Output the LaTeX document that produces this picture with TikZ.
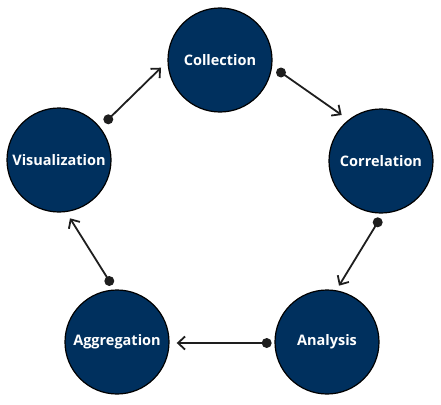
\documentclass[tikz,border=0pt]{standalone}
\usepackage{fontspec}
\setmainfont{Open Sans}
\usetikzlibrary{arrows.meta}
\definecolor{navy}{RGB}{0,48,94}
\definecolor{ink}{RGB}{30,30,30}
\tikzset{
  stage/.style={circle, draw=black, line width=1.2pt, fill=navy, minimum size=104pt, inner sep=0pt,
    text=white, font=\fontsize{14.5pt}{16pt}\selectfont\bfseries},
  dotmark/.style={circle, fill=ink, minimum size=10pt, inner sep=0pt},
  conn/.style={draw=ink, line width=1.8pt, -{Straight Barb[length=7pt,width=13pt,line width=1.8pt]}}
}
\begin{document}
\begin{tikzpicture}[x=1pt,y=-1pt]
\useasboundingbox (0,0) rectangle (441,404);
\node[stage] (collection) at (220,60) {Collection};
\node[stage] (correlation) at (381,161) {Correlation};
\node[stage] (analysis) at (327,342) {Analysis};
\node[stage] (aggregation) at (117,342) {Aggregation};
\node[stage] (visualization) at (59,160) {Visualization};

\node[dotmark] (d1) at (281,72.5) {};
\node[dotmark] (d2) at (377.7,222.3) {};
\node[dotmark] (d3) at (266.7,343) {};
\node[dotmark] (d4) at (109.3,281) {};
\node[dotmark] (d5) at (108.3,119.3) {};
\coordinate (t1) at (341.7,115);
\coordinate (t2) at (339,285.7);
\coordinate (t3) at (176.7,343);
\coordinate (t4) at (70,218.3);
\coordinate (t5) at (161,67.7);

\draw[conn] (d1.center) -- (t1);
\draw[conn] (d2.center) -- (t2);
\draw[conn] (d3.center) -- (t3);
\draw[conn] (d4.center) -- (t4);
\draw[conn] (d5.center) -- (t5);
\end{tikzpicture}
\end{document}
